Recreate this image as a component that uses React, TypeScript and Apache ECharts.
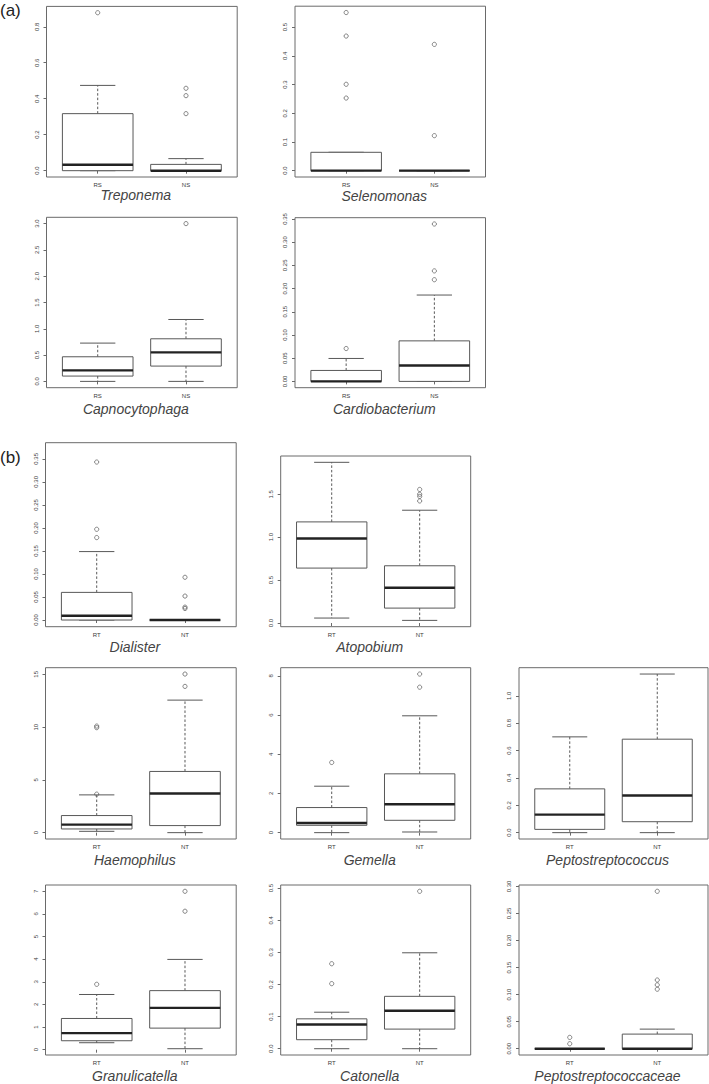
import React, { useEffect, useRef } from "react";
import * as echarts from "echarts";

// ---- data ----
const taxa = [
  "Treponema", "Selenomonas", "Capnocytophaga", "Cardiobacterium",
  "Dialister", "Atopobium", "Haemophilus", "Gemella", "Peptostreptococcus",
  "Granulicatella", "Catonella", "Peptostreptococcaceae",
];
const groupsA = ["RS", "NS"];
const groupsB = ["RT", "NT"];

// box stats per group: [lower whisker, Q1, median, Q3, upper whisker]
const treponemaBox = [[0, 0, 0.033, 0.317, 0.474], [0, 0, 0, 0.035, 0.067]];
const treponemaOut = [[0.878], [0.458, 0.417, 0.317]];
const treponemaTicks = [0, 0.2, 0.4, 0.6, 0.8];

const selenomonasBox = [[0, 0, 0, 0.064, 0.064], [0, 0, 0, 0, 0]];
const selenomonasOut = [[0.551, 0.469, 0.301, 0.253], [0.44, 0.122]];
const selenomonasTicks = [0, 0.1, 0.2, 0.3, 0.4, 0.5];

const capnocytophagaBox = [[0, 0.101, 0.209, 0.468, 0.728], [0, 0.291, 0.551, 0.81, 1.177]];
const capnocytophagaOut = [[], [3.0]];
const capnocytophagaTicks = [0, 0.5, 1, 1.5, 2, 2.5, 3];

const cardiobacteriumBox = [[0, 0, 0, 0.0236, 0.0494], [0, 0, 0.0343, 0.0873, 0.186]];
const cardiobacteriumOut = [[0.0708], [0.339, 0.238, 0.219]];
const cardiobacteriumTicks = [0, 0.05, 0.1, 0.15, 0.2, 0.25, 0.3, 0.35];

const dialisterBox = [[0, 0, 0.0094, 0.06, 0.1486], [0, 0, 0, 0, 0]];
const dialisterOut = [[0.343, 0.197, 0.179], [0.0928, 0.052, 0.028, 0.025]];
const dialisterTicks = [0, 0.05, 0.1, 0.15, 0.2, 0.25, 0.3, 0.35];

const atopobiumBox = [[0.058, 0.64, 0.984, 1.178, 1.872], [0.031, 0.174, 0.411, 0.667, 1.314]];
const atopobiumOut = [[], [1.556, 1.5, 1.475, 1.422]];
const atopobiumTicks = [0, 0.5, 1, 1.5];

const haemophilusBox = [[0.127, 0.35, 0.761, 1.62, 3.58], [0, 0.67, 3.71, 5.8, 12.56]];
const haemophilusOut = [[3.65, 10.1, 9.95], [15.03, 13.86]];
const haemophilusTicks = [0, 5, 10, 15];

const gemellaBox = [[0, 0.375, 0.495, 1.28, 2.37], [0.034, 0.63, 1.45, 3.0, 5.96]];
const gemellaOut = [[3.58], [8.09, 7.42]];
const gemellaTicks = [0, 2, 4, 6, 8];

const peptostreptococcusBox = [[0, 0.024, 0.132, 0.32, 0.7], [0, 0.08, 0.271, 0.683, 1.159]];
const peptostreptococcusOut = [[], []];
const peptostreptococcusTicks = [0, 0.2, 0.4, 0.6, 0.8, 1.0];

const granulicatellaBox = [[0.308, 0.396, 0.734, 1.38, 2.44], [0.044, 0.954, 1.85, 2.61, 3.99]];
const granulicatellaOut = [[2.89], [7.0, 6.12]];
const granulicatellaTicks = [0, 1, 2, 3, 4, 5, 6, 7];

const catonellaBox = [[0, 0.028, 0.0754, 0.093, 0.1136], [0, 0.061, 0.118, 0.163, 0.2986]];
const catonellaOut = [[0.2645, 0.2025], [0.49]];
const catonellaTicks = [0, 0.1, 0.2, 0.3, 0.4, 0.5];

const peptostreptococcaceaeBox = [[0, 0, 0, 0, 0], [0, 0, 0, 0.027, 0.0362]];
const peptostreptococcaceaeOut = [[0.0209, 0.0092], [0.291, 0.127, 0.118, 0.11]];
const peptostreptococcaceaeTicks = [0, 0.05, 0.1, 0.15, 0.2, 0.25, 0.3];

// ---- layout (pixel frames: left, top, right, bottom) ----
const frames = [
  [46.5, 6.4, 237.2, 177],
  [295, 6.2, 485.5, 177],
  [46.5, 217.3, 237.2, 387.7],
  [295, 217.7, 485.5, 387.7],
  [45.5, 442.7, 236.2, 626.7],
  [280.7, 456, 470.7, 626.7],
  [45.5, 667.7, 236.2, 839],
  [280.7, 667.7, 470.7, 839],
  [519, 667.7, 708, 839],
  [45.5, 885, 236.2, 1055],
  [280.7, 885, 470.7, 1055],
  [519, 885, 708, 1055],
];
const titleY = [195, 196, 409, 409, 647, 647, 860, 860, 860, 1076, 1076, 1076];

const panels = [
  { box: treponemaBox, out: treponemaOut, ticks: treponemaTicks, dec: 1, groups: groupsA },
  { box: selenomonasBox, out: selenomonasOut, ticks: selenomonasTicks, dec: 1, groups: groupsA },
  { box: capnocytophagaBox, out: capnocytophagaOut, ticks: capnocytophagaTicks, dec: 1, groups: groupsA },
  { box: cardiobacteriumBox, out: cardiobacteriumOut, ticks: cardiobacteriumTicks, dec: 2, groups: groupsA },
  { box: dialisterBox, out: dialisterOut, ticks: dialisterTicks, dec: 2, groups: groupsB, range: [-0.0145, 0.385] },
  { box: atopobiumBox, out: atopobiumOut, ticks: atopobiumTicks, dec: 1, groups: groupsB },
  { box: haemophilusBox, out: haemophilusOut, ticks: haemophilusTicks, dec: 0, groups: groupsB },
  { box: gemellaBox, out: gemellaOut, ticks: gemellaTicks, dec: 0, groups: groupsB },
  { box: peptostreptococcusBox, out: peptostreptococcusOut, ticks: peptostreptococcusTicks, dec: 1, groups: groupsB },
  { box: granulicatellaBox, out: granulicatellaOut, ticks: granulicatellaTicks, dec: 0, groups: groupsB },
  { box: catonellaBox, out: catonellaOut, ticks: catonellaTicks, dec: 1, groups: groupsB },
  { box: peptostreptococcaceaeBox, out: peptostreptococcaceaeOut, ticks: peptostreptococcaceaeTicks, dec: 2, groups: groupsB },
];

const FRAME = "#6a6a6a";
const LINE = "#585858";
const TEXT = "#3c3c3c";
const FONT = "'Liberation Sans', Arial, sans-serif";

export default function App() {
  const ref = useRef<HTMLDivElement>(null);
  useEffect(() => {
    if (!ref.current) return;
    const chart = echarts.init(ref.current, null, { renderer: "svg" });
    const grid: any[] = [];
    const xAxis: any[] = [];
    const yAxis: any[] = [];
    const series: any[] = [];
    const graphic: any[] = [];

    panels.forEach((p: any, i) => {
      const [l, t, r, b] = frames[i];
      const all = p.box.flat().concat(p.out.flat());
      const lo = Math.min(...all);
      const hi = Math.max(...all);
      const pad = (hi - lo) * 0.04;
      const range = p.range || [lo - pad, hi + pad];
      grid.push({
        left: l, top: t, width: r - l, height: b - t,
        show: true, borderColor: FRAME, borderWidth: 1, backgroundColor: "transparent",
      });
      xAxis.push({
        type: "value", gridIndex: i, min: 0.42, max: 2.58,
        axisLine: { show: false }, splitLine: { show: false },
        axisTick: { show: true, customValues: [1, 2], length: 3, lineStyle: { color: FRAME, width: 1 } },
        axisLabel: {
          show: true, customValues: [1, 2], fontSize: 6, color: TEXT, fontFamily: FONT, margin: 5,
          formatter: (v: number) => p.groups[Math.round(v) - 1] || "",
        },
      });
      yAxis.push({
        type: "value", gridIndex: i, min: range[0], max: range[1],
        axisLine: { show: false }, splitLine: { show: false },
        axisTick: { show: true, customValues: p.ticks, length: 3, lineStyle: { color: FRAME, width: 1 } },
        axisLabel: {
          show: true, customValues: p.ticks, fontSize: 6, color: TEXT, fontFamily: FONT,
          rotate: 90, margin: 7,
          formatter: (v: number) => v.toFixed(p.dec),
        },
      });
      series.push({
        type: "custom", xAxisIndex: i, yAxisIndex: i, clip: false,
        data: p.box.map((s: number[], k: number) => [k + 1, ...s]),
        encode: { x: 0, y: [1, 2, 3, 4, 5] },
        renderItem: (params: any, api: any) => {
          const x = api.value(0);
          const ys = [1, 2, 3, 4, 5].map((k) => api.coord([x, api.value(k)])[1]);
          const cx = api.coord([x, api.value(1)])[0];
          const w = api.size([0.8, 0])[0];
          const hw = w / 2;
          const sw = w / 4;
          const [yLo, yQ1, yMed, yQ3, yHi] = ys;
          const dash = { stroke: LINE, lineWidth: 1, lineDash: [2.5, 2] };
          const solid = { stroke: LINE, lineWidth: 1 };
          return {
            type: "group",
            children: [
              { type: "line", shape: { x1: cx, y1: yQ3, x2: cx, y2: yHi }, style: dash },
              { type: "line", shape: { x1: cx, y1: yQ1, x2: cx, y2: yLo }, style: dash },
              { type: "line", shape: { x1: cx - sw, y1: yHi, x2: cx + sw, y2: yHi }, style: solid },
              { type: "line", shape: { x1: cx - sw, y1: yLo, x2: cx + sw, y2: yLo }, style: solid },
              {
                type: "rect",
                shape: { x: cx - hw, y: yQ3, width: w, height: Math.max(yQ1 - yQ3, 0) },
                style: { fill: "#fff", stroke: LINE, lineWidth: 1 },
              },
              { type: "line", shape: { x1: cx - hw, y1: yMed, x2: cx + hw, y2: yMed }, style: { stroke: "#222", lineWidth: 2.4 } },
            ],
          };
        },
      });
      const outData: number[][] = [];
      p.out.forEach((arr: number[], k: number) => arr.forEach((v) => outData.push([k + 1, v])));
      series.push({
        type: "scatter", xAxisIndex: i, yAxisIndex: i, data: outData,
        symbol: "circle", symbolSize: 4.2, silent: true,
        itemStyle: { color: "rgba(0,0,0,0)", borderColor: LINE, borderWidth: 0.9 },
      });
      graphic.push({
        type: "text", x: (l + r) / 2 - 6, y: titleY[i],
        style: {
          text: taxa[i], fill: "#444", font: `italic 14px ${FONT}`,
          align: "center", verticalAlign: "middle",
        },
      });
    });

    graphic.push({
      type: "text", x: 0, y: 10,
      style: { text: "(a)", fill: "#222", font: `17px ${FONT}`, align: "left", verticalAlign: "middle" },
    });
    graphic.push({
      type: "text", x: 0, y: 457,
      style: { text: "(b)", fill: "#222", font: `17px ${FONT}`, align: "left", verticalAlign: "middle" },
    });

    chart.setOption({
      animation: false,
      backgroundColor: "#fff",
      grid, xAxis, yAxis, series, graphic,
    });
    return () => chart.dispose();
  }, []);
  return (
    <div
      ref={ref}
      style={{ position: "absolute", left: 0, top: 0, width: 709, height: 1084 }}
    />
  );
}
